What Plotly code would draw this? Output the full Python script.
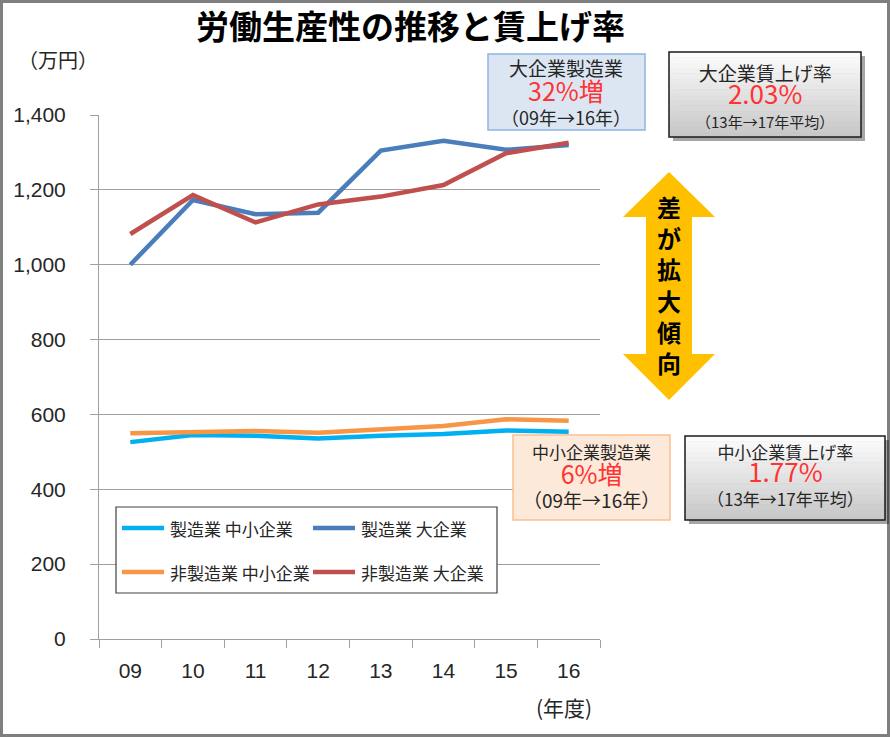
import plotly.graph_objects as go

# ---- data ----
years = ["09", "10", "11", "12", "13", "14", "15", "16"]
mfg_sme = [526, 545, 543, 536, 543, 548, 557, 554]
mfg_large = [1000, 1173, 1135, 1139, 1305, 1331, 1307, 1320]
nonmfg_sme = [550, 554, 556, 551, 560, 569, 587, 583]
nonmfg_large = [1082, 1186, 1113, 1161, 1182, 1213, 1298, 1326]

series_names = ["製造業 中小企業", "製造業 大企業", "非製造業 中小企業", "非製造業 大企業"]
series_values = [mfg_sme, mfg_large, nonmfg_sme, nonmfg_large]
series_colors = ["#00b0f0", "#4a7ebb", "#f79646", "#c0504d"]

y_ticks = [0, 200, 400, 600, 800, 1000, 1200, 1400]
y_ticktext = ["0", "200", "400", "600", "800", "1,000", "1,200", "1,400"]

W, H = 890, 737
L, R, T, B = 99, 600, 115, 639
JP = "Noto Sans CJK JP"
NUM = "Liberation Sans"
RED = "#ff3333"


def X(px):
    return (px - L) / (R - L)


def Y(py):
    return (B - py) / (B - T)


fig = go.Figure()
for name, vals, col in zip(series_names, series_values, series_colors):
    fig.add_trace(go.Scatter(x=years, y=vals, mode="lines", name=name,
                             line=dict(color=col, width=4.5), showlegend=False))

shapes = []
annotations = []


def rect(x0, y0, x1, y1, fill, line_color=None, lw=1):
    shapes.append(dict(type="rect", xref="paper", yref="paper",
                       x0=X(x0), x1=X(x1), y0=Y(y1), y1=Y(y0),
                       fillcolor=fill,
                       line=dict(color=line_color if line_color else fill,
                                 width=lw if line_color else 0),
                       layer="above"))


def text(px, py, s, size, color="#262626", family=JP, bold=False, xanchor="center"):
    if bold:
        s = "<b>" + s + "</b>"
    annotations.append(dict(x=X(px), y=Y(py), xref="paper", yref="paper", text=s,
                            showarrow=False, xanchor=xanchor, yanchor="middle",
                            font=dict(size=size, color=color, family=family)))


def span(s, size, color=None):
    st = "font-size:%dpx" % size
    if color:
        st += ";color:%s" % color
    return "<span style='%s'>%s</span>" % (st, s)


# outer border
shapes.append(dict(type="rect", xref="paper", yref="paper",
                   x0=X(1.5), x1=X(W - 1.5), y0=Y(H - 1.5), y1=Y(1.5),
                   line=dict(color="#7f7f7f", width=3), fillcolor="rgba(0,0,0,0)",
                   layer="above"))

# title and unit labels
text(410, 25, "労働生産性の推移と賃上げ率", 33, color="#000000", bold=True)
text(58, 60, "（万円）", 20, color="#262626")
text(564, 707, "(年度)", 21, color="#262626")

# legend (manual)
rect(116, 507, 497, 593, "#ffffff", "#404040", 1.2)
legend_pos = [(122, 528), (313, 528), (122, 572), (313, 572)]
for (lx, ly), name, col in zip(legend_pos, series_names, series_colors):
    shapes.append(dict(type="line", xref="paper", yref="paper",
                       x0=X(lx), x1=X(lx + 42), y0=Y(ly), y1=Y(ly),
                       line=dict(color=col, width=4.5), layer="above"))
    text(lx + 46, ly, name, 17, color="#262626", xanchor="left")

# box: 大企業製造業
rect(488, 54, 645, 130, "#dce6f2", "#8eb4e3", 1.5)
text(566, 92, span("大企業製造業", 19) + "<br>" + span("32%増", 25, RED) + "<br>"
     + span("（09年→16年）", 18), 19)

# box: 中小企業製造業
rect(513, 435, 670, 520, "#fde9d9", "#fac090", 1.5)
text(591, 476, span("中小企業製造業", 17) + "<br>" + span("6%増", 25, RED) + "<br>"
     + span("（09年→16年）", 19), 19)


def gray_box(x0, y0, x1, y1):
    shapes.append(dict(type="rect", xref="paper", yref="paper",
                       x0=X(x0 + 4), x1=X(x1 + 4), y0=Y(y1 + 4), y1=Y(y0 + 4),
                       fillcolor="rgba(0,0,0,0.35)", line=dict(width=0), layer="above"))
    n = 16
    for i in range(n):
        t = i / (n - 1)
        c = int(252 - t * 52)
        sy0 = y0 + (y1 - y0) * i / n
        sy1 = y0 + (y1 - y0) * (i + 1) / n + 0.5
        rect(x0, sy0, x1, min(sy1, y1), "rgb(%d,%d,%d)" % (c, c, c))
    shapes.append(dict(type="rect", xref="paper", yref="paper",
                       x0=X(x0), x1=X(x1), y0=Y(y1), y1=Y(y0),
                       fillcolor="rgba(0,0,0,0)", line=dict(color="#1a1a1a", width=1.5),
                       layer="above"))


gray_box(669, 52, 861, 137)
text(765, 95, span("大企業賃上げ率", 19) + "<br>" + span("2.03%", 26, RED) + "<br>"
     + span("（13年→17年平均）", 15), 18)

gray_box(685, 436, 885, 520)
text(785, 475, span("中小企業賃上げ率", 17) + "<br>" + span("1.77%", 26, RED) + "<br>"
     + span("（13年→17年平均）", 17), 18)

# double arrow
pts = [(669, 172), (715, 217), (692, 217), (692, 354), (715, 354), (669, 400),
       (623, 354), (646, 354), (646, 217), (623, 217)]
path = "M " + " L ".join("%f,%f" % (X(px), Y(py)) for px, py in pts) + " Z"
shapes.append(dict(type="path", xref="paper", yref="paper", path=path,
                   fillcolor="#ffc000", line=dict(width=0), layer="above"))
text(669, 284, "<br>".join("差が拡大傾向"), 24, color="#000000", bold=True)

fig.update_layout(
    width=W, height=H,
    margin=dict(l=L, r=W - R, t=T, b=H - B, pad=0),
    paper_bgcolor="#ffffff", plot_bgcolor="#ffffff",
    shapes=shapes, annotations=annotations,
    showlegend=False,
    xaxis=dict(type="category", tickson="boundaries", ticks="outside", ticklen=8,
               tickcolor="#a0a0a0", showline=True, linecolor="#a0a0a0", linewidth=1,
               showgrid=False, tickfont=dict(size=21, family=NUM, color="#262626"),
               ticklabelstandoff=13, range=[-0.5, 7.5], fixedrange=True),
    yaxis=dict(range=[0, 1400], tickvals=y_ticks, ticktext=y_ticktext,
               ticks="outside", ticklen=8, tickcolor="#a0a0a0",
               showline=True, linecolor="#a0a0a0", linewidth=1,
               showgrid=True, gridcolor="#a0a0a0", gridwidth=1, zeroline=False,
               tickfont=dict(size=21, family=NUM, color="#262626"),
               ticklabelstandoff=20, fixedrange=True),
)

fig.write_html("out.html", config={"displayModeBar": False},
               post_script="document.body.style.margin='0';document.body.style.overflow='hidden';")
